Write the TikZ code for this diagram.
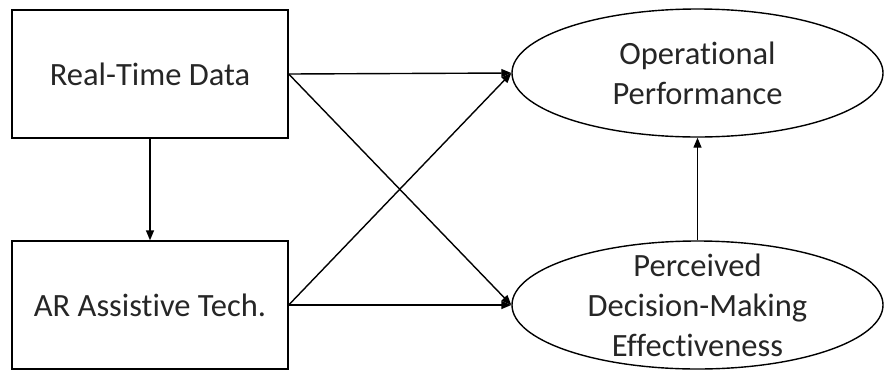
\documentclass[tikz,border=0pt]{standalone}
\usepackage{fontspec}
\setmainfont[Ligatures={NoCommon}]{Carlito}
\usetikzlibrary{shapes.geometric,arrows.meta}
\begin{document}
\begin{tikzpicture}[x=1bp,y=-1bp,
  every node/.style={font=\fontsize{32.5bp}{40bp}\selectfont, text=black!85},
  boxnode/.style={draw=black, line width=1.4bp, minimum width=276bp, minimum height=128bp, inner sep=0pt},
  ellnode/.style={draw=black, line width=1.4bp, ellipse, minimum width=371bp, minimum height=128bp, inner sep=0pt},
  labeltext/.style={align=center, inner sep=0pt},
  link/.style={draw=black, line width=1.4bp, -{Triangle[length=10bp,width=8bp]}}
]
\useasboundingbox (0,0) rectangle (884,370);
\node[boxnode] (b1) at (150,74) {Real-Time Data};
\node[boxnode] (b2) at (150,305) {AR Assistive Tech.};
\node[ellnode] (e1) at (697.5,73) {};
\node[ellnode] (e2) at (697.5,305) {};
\node[labeltext] (t1) at (e1) {Operational\\Performance};
\node[labeltext] (t2) at (e2) {Perceived\\Decision-Making\\Effectiveness};
\draw[link] (b1.south) -- (b2.north);
\draw[link] (e2.north) -- (e1.south);
\draw[link] (b1.east) -- (e1.west);
\draw[link] (b1.east) -- (e2.west);
\draw[link] (b2.east) -- (e1.west);
\draw[link] (b2.east) -- (e2.west);
\end{tikzpicture}
\end{document}
